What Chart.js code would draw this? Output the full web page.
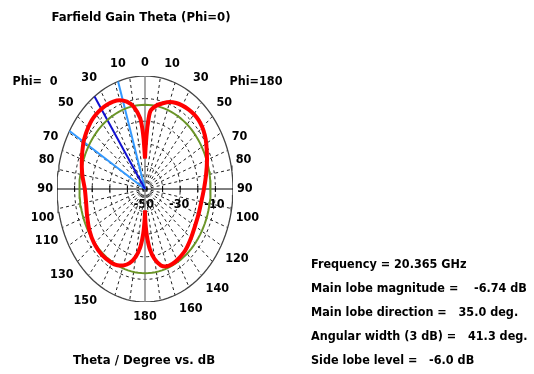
<!DOCTYPE html>
<html>
<head>
<meta charset="utf-8">
<style>
  html, body { margin: 0; padding: 0; background: #fff; }
  #wrap { width: 534px; height: 374px; }
</style>
<script src="https://cdn.jsdelivr.net/npm/chart.js@4.4.1/dist/chart.umd.min.js"></script>
</head>
<body>
<div id="wrap"><canvas id="farfield"></canvas></div>
<script>
// theta (deg) and gain (dB), left half = Phi 0, right half = Phi 180
const thetaDeg   = [0, 1, 2, 3, 5, 10, 15, 20, 25, 30, 35, 40, 45, 50, 55, 60, 70, 80, 90, 100, 110, 120, 130, 140, 150, 155, 160, 165, 170, 174, 177, 179, 180];
const gainPhi0   = [-36.5, -33, -28, -24, -18.5, -13, -10, -8.2, -7.3, -6.9, -6.74, -6.8, -7.1, -7.8, -8.6, -9.5, -11.8, -13.8, -15.8, -16, -15, -13.5, -12.4, -11.9, -12.2, -12.8, -14, -16, -19.5, -24, -30, -36, -40.5];
const gainPhi180 = [-36.5, -32, -27, -22, -15.5, -12.5, -10.7, -9, -8, -7.4, -7, -6.8, -6.9, -7.5, -8.5, -9.8, -12.5, -14.8, -16.5, -17.5, -17.6, -17.2, -16, -14.5, -13.6, -13.4, -13.6, -15, -18.5, -23, -29, -35, -40.5];

const dbMin = -50, dbMax = 0;
const ringLevels = [-40, -30, -20, -10];
const dbTickValues = [-50, -30, -10];
const spokeStep = 10;

const mainLobeDir = 35.0;
const beamEdges = [17.8, 59.1];
const sideLobeLevel = -12.74;

const labelsPhi0 = [0, 10, 30, 50, 70, 80, 90, 100, 110, 130, 150, 180];
const labelsPhi180 = [10, 30, 50, 70, 80, 90, 100, 120, 140, 160];

const titleText = "Farfield Gain Theta (Phi=0)";
const axisText = "Theta / Degree vs. dB";
const infoLines = [
  "Frequency = 20.365 GHz",
  "Main lobe magnitude =    -6.74 dB",
  "Main lobe direction =   35.0 deg.",
  "Angular width (3 dB) =   41.3 deg.",
  "Side lobe level =   -6.0 dB"
];

const FONT = "bold 12.5px 'DejaVu Sans Condensed', 'DejaVu Sans', sans-serif";

function toR(db) {
  return Math.max(0, (db - dbMin) / (dbMax - dbMin));
}
function polar(side, deg, r) {
  const a = deg * Math.PI / 180;
  return { x: side * r * Math.sin(a), y: r * Math.cos(a) };
}
function ellipse(r) {
  const pts = [];
  for (let a = 0; a <= 360; a += 3) pts.push(polar(1, a, r));
  return pts;
}

const curve0 = thetaDeg.map((t, i) => polar(-1, t, toR(gainPhi0[i])));
const curve180 = thetaDeg.map((t, i) => polar(1, t, toR(gainPhi180[i])));

const datasets = [];
datasets.push({ data: curve0, borderColor: "#ff0000", borderWidth: 4, tension: 0.25 });
datasets.push({ data: curve180, borderColor: "#ff0000", borderWidth: 4, tension: 0.25 });
datasets.push({ data: ellipse(toR(sideLobeLevel)), borderColor: "#6b9528", borderWidth: 2 });
datasets.push({ data: [{ x: 0, y: 0 }, polar(-1, mainLobeDir, 1)], borderColor: "#1010d0", borderWidth: 2 });
beamEdges.forEach(b => {
  datasets.push({ data: [{ x: 0, y: 0 }, polar(-1, b, 1)], borderColor: "#3399ff", borderWidth: 2 });
});
// axes
datasets.push({ data: [{ x: -1, y: 0 }, { x: 1, y: 0 }], borderColor: "#000", borderWidth: 1 });
datasets.push({ data: [{ x: 0, y: 1 }, { x: 0, y: -1 }], borderColor: "#888", borderWidth: 1.5 });
// tick marks on the 90 deg axis
const tickPts = [];
ringLevels.forEach(l => { tickPts.push({ x: toR(l), y: 0 }); tickPts.push({ x: -toR(l), y: 0 }); });
datasets.push({ data: tickPts, showLine: false, pointStyle: "line", rotation: 90, pointRadius: 3, borderColor: "#000", borderWidth: 1 });
// outer border
datasets.push({ data: ellipse(1), borderColor: "#444", borderWidth: 1.3 });
// dashed rings
ringLevels.forEach(l => {
  datasets.push({ data: ellipse(toR(l)), borderColor: "#222", borderWidth: 1, borderDash: [3, 3] });
});
// dashed spokes
for (let a = spokeStep; a < 180; a += spokeStep) {
  if (a === 90) continue;
  [-1, 1].forEach(s => {
    datasets.push({ data: [{ x: 0, y: 0 }, polar(s, a, 1)], borderColor: "#222", borderWidth: 1, borderDash: [3, 3] });
  });
}
datasets.forEach(d => {
  if (d.showLine === undefined) d.showLine = true;
  if (d.pointRadius === undefined) d.pointRadius = 0;
  d.fill = false;
});

const textPlugin = {
  id: "farfieldText",
  beforeDatasetsDraw(chart) {
    const ctx = chart.ctx, xs = chart.scales.x, ys = chart.scales.y;
    ctx.save();
    ctx.font = FONT;
    ctx.fillStyle = "#000";
    ctx.textAlign = "center";
    ctx.textBaseline = "middle";
    const yl = ys.getPixelForValue(0) + 16;
    dbTickValues.forEach(v => {
      ctx.fillText(String(v), xs.getPixelForValue(toR(v)) - (v === dbMin ? 1 : 1), yl);
    });
    ctx.restore();
  },
  afterDraw(chart) {
    const ctx = chart.ctx, xs = chart.scales.x, ys = chart.scales.y;
    ctx.save();
    ctx.fillStyle = "#000";
    ctx.font = FONT;
    ctx.textAlign = "center";
    ctx.textBaseline = "middle";
    // label sits just outside the outer ellipse, shifted by half its width
    const place = (side, deg) => {
      const p = polar(side, deg, 1);
      const txt = String(deg);
      const w = ctx.measureText(txt).width;
      const c = Math.cos(deg * Math.PI / 180);
      let x = xs.getPixelForValue(p.x);
      let y = ys.getPixelForValue(p.y);
      if (deg === 0 || deg === 180) {
        y += deg === 0 ? -13.5 : 14.5;
      } else {
        x += side * (4 + w / 2);
        y -= 13.5 * Math.sign(c) * Math.min(1, Math.abs(c) * 4);
      }
      ctx.fillText(txt, x, y);
    };
    labelsPhi0.forEach(d => place(-1, d));
    labelsPhi180.forEach(d => place(1, d));
    ctx.fillText("Phi=  0", 35, 82);
    ctx.fillText("Phi=180", 256, 82);

    ctx.font = "bold 13px 'DejaVu Sans Condensed', 'DejaVu Sans', sans-serif";
    ctx.fillText(titleText, 141, 18);
    ctx.fillText(axisText, 144, 361);

    ctx.font = FONT;
    ctx.textAlign = "left";
    infoLines.forEach((s, i) => ctx.fillText(s, 311, 265 + i * 24));
    ctx.restore();
  }
};

new Chart(document.getElementById("farfield"), {
  type: "scatter",
  data: { datasets: datasets },
  options: {
    responsive: true,
    maintainAspectRatio: false,
    animation: false,
    layout: { padding: { left: 57, right: 301, top: 76, bottom: 72 } },
    scales: {
      x: { type: "linear", min: -1, max: 1, display: false },
      y: { type: "linear", min: -1, max: 1, display: false }
    },
    plugins: { legend: { display: false }, tooltip: { enabled: false } }
  },
  plugins: [textPlugin]
});
</script>
</body>
</html>
